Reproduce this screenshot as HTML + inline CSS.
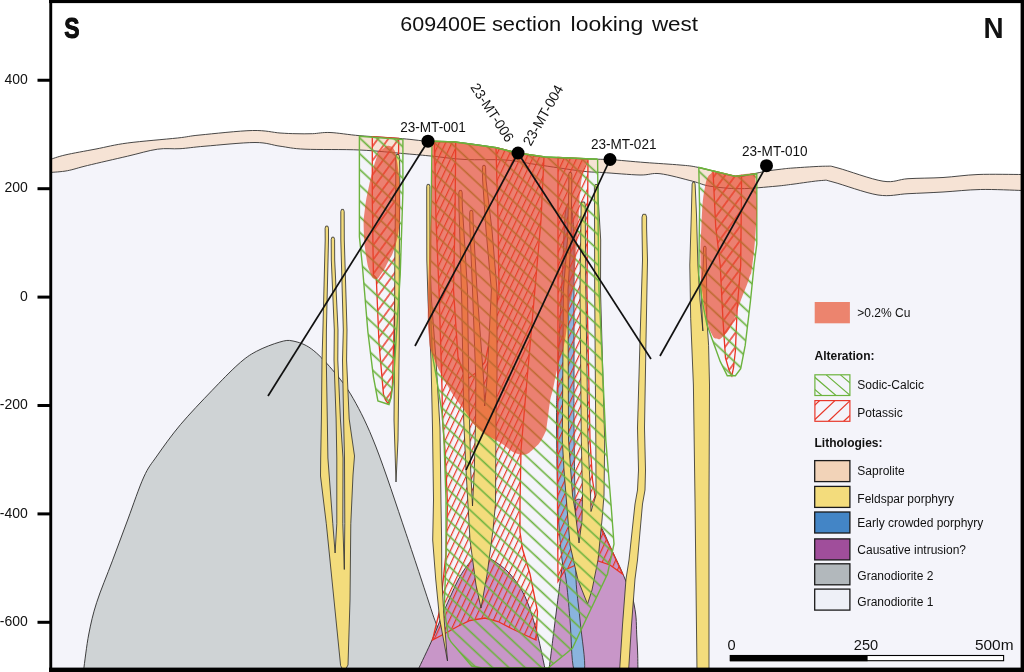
<!DOCTYPE html>
<html><head><meta charset="utf-8"><title>609400E section looking west</title>
<style>
html,body{margin:0;padding:0;background:#fff;}
body{width:1024px;height:672px;overflow:hidden;}
svg{display:block;will-change:transform;}
text{font-family:"Liberation Sans",sans-serif;fill:#111;}
</style></head><body>
<svg width="1024" height="672" viewBox="0 0 1024 672">
<defs>
<clipPath id="cl1"><rect x="814.9" y="374.8" width="35" height="20.7"/></clipPath>
<clipPath id="cl2"><rect x="814.9" y="400.6" width="35" height="20.7"/></clipPath>
<clipPath id="frame"><rect x="50" y="2" width="972" height="667"/></clipPath>

<pattern id="hgA" patternUnits="userSpaceOnUse" width="40" height="11.1" patternTransform="rotate(43)"><path d="M0,7.9 H40" stroke="#6cb33e" stroke-width="1.55"/></pattern>
<pattern id="hgS" patternUnits="userSpaceOnUse" width="40" height="11.5" patternTransform="rotate(43)"><path d="M0,5.2 H40" stroke="#6cb33e" stroke-width="1.55"/></pattern>
<pattern id="hrM" patternUnits="userSpaceOnUse" width="40" height="5.7" patternTransform="rotate(-65)"><path d="M0,2.5 H40" stroke="#ea3323" stroke-width="1.35"/></pattern>
<pattern id="hrS" patternUnits="userSpaceOnUse" width="40" height="8.4" patternTransform="rotate(-54)"><path d="M0,1 H40" stroke="#ea3323" stroke-width="1.35"/></pattern>

</defs>
<rect width="1024" height="672" fill="#fff"/>
<g clip-path="url(#frame)">
<path d="M50.0,172.5 C52.9,172.2 61.2,171.9 67.5,170.7 C73.8,169.5 77.5,167.9 87.5,165.5 C97.5,163.1 115.8,158.9 127.5,156.2 C139.2,153.5 148.8,150.4 157.5,149.2 C166.2,147.9 172.1,149.2 180.0,148.7 C187.9,148.2 192.5,147.2 205.0,146.2 C217.5,145.2 242.5,142.5 255.0,142.5 C267.5,142.5 271.7,145.1 280.0,146.2 C288.3,147.3 291.7,148.6 305.0,149.2 C318.3,149.8 343.3,149.2 360.0,150.0 C376.7,150.8 392.9,152.7 405.0,153.7 C417.1,154.7 422.5,155.2 432.5,156.2 C442.5,157.2 452.9,158.9 465.0,159.5 C477.1,160.1 493.2,159.2 505.0,160.0 C516.8,160.8 523.1,162.6 536.0,164.5 C548.9,166.4 571.4,169.9 582.5,171.2 C593.6,172.5 592.9,171.9 602.5,172.5 C612.1,173.1 630.4,174.8 640.0,175.0 C649.6,175.2 651.2,172.7 660.0,173.7 C668.8,174.7 684.2,179.1 692.5,181.2 C700.8,183.3 702.1,184.9 710.0,186.2 C717.9,187.4 729.0,188.7 740.0,188.7 C751.0,188.7 767.2,186.9 776.0,186.2 C784.8,185.4 785.4,185.1 793.0,184.2 C800.6,183.2 815.0,180.9 821.7,180.5 C828.4,180.1 823.6,179.6 833.0,182.0 C842.4,184.4 865.5,193.1 878.0,195.0 C890.5,196.9 897.2,194.2 908.0,193.7 C918.8,193.2 930.9,192.7 943.0,192.0 C955.1,191.3 967.3,189.8 980.5,189.5 C993.7,189.2 1015.1,190.3 1022.0,190.5 L1022,669 L50,669Z" fill="#f4f4fa"/>
<path d="M50.0,159.5 C52.5,158.8 57.3,156.8 65.0,155.0 C72.7,153.2 85.6,151.0 96.0,149.0 C106.4,147.0 113.9,144.8 127.5,143.0 C141.1,141.2 165.4,139.3 177.5,138.0 C189.6,136.7 187.5,136.2 200.0,135.0 C212.5,133.8 239.2,130.8 252.5,130.5 C265.8,130.2 272.8,132.5 280.0,133.0 C287.2,133.5 290.6,133.6 296.0,133.7 C301.4,133.8 306.8,133.9 312.5,133.7 C318.2,133.5 322.1,132.2 330.0,132.5 C337.9,132.8 347.9,134.7 360.0,135.7 C372.1,136.7 391.2,137.8 402.5,138.7 C413.8,139.6 418.8,140.6 427.5,141.2 C436.2,141.8 443.8,140.9 455.0,142.0 C466.2,143.1 484.6,145.7 495.0,147.5 C505.4,149.3 509.2,151.4 517.5,153.0 C525.8,154.6 531.7,156.0 545.0,157.0 C558.3,158.0 586.7,158.8 597.5,159.2 C608.3,159.6 602.1,158.9 610.0,159.5 C617.9,160.1 633.3,161.6 645.0,162.5 C656.7,163.4 671.0,164.2 680.0,165.0 C689.0,165.8 689.5,165.6 698.7,167.5 C707.9,169.4 726.1,175.1 735.0,176.2 C743.9,177.3 746.8,174.8 752.0,174.0 C757.2,173.2 761.3,172.0 766.0,171.2 C770.7,170.4 775.5,169.8 780.0,169.3 C784.5,168.8 785.4,168.5 793.0,168.0 C800.6,167.5 818.0,166.2 825.5,166.2 C833.0,166.2 828.4,165.5 838.0,168.0 C847.6,170.5 871.3,179.4 883.0,181.2 C894.7,183.0 898.0,179.3 908.0,178.7 C918.0,178.1 931.3,178.2 943.0,177.5 C954.7,176.8 964.8,175.0 978.0,174.5 C991.2,174.0 1014.7,174.5 1022.0,174.5 L1022.0,190.5 C1015.1,190.3 993.7,189.2 980.5,189.5 C967.3,189.8 955.1,191.3 943.0,192.0 C930.9,192.7 918.8,193.2 908.0,193.7 C897.2,194.2 890.5,196.9 878.0,195.0 C865.5,193.1 842.4,184.4 833.0,182.0 C823.6,179.6 828.4,180.1 821.7,180.5 C815.0,180.9 800.6,183.2 793.0,184.2 C785.4,185.1 784.8,185.4 776.0,186.2 C767.2,186.9 751.0,188.7 740.0,188.7 C729.0,188.7 717.9,187.4 710.0,186.2 C702.1,184.9 700.8,183.3 692.5,181.2 C684.2,179.1 668.8,174.7 660.0,173.7 C651.2,172.7 649.6,175.2 640.0,175.0 C630.4,174.8 612.1,173.1 602.5,172.5 C592.9,171.9 593.6,172.5 582.5,171.2 C571.4,169.9 548.9,166.4 536.0,164.5 C523.1,162.6 516.8,160.8 505.0,160.0 C493.2,159.2 477.1,160.1 465.0,159.5 C452.9,158.9 442.5,157.2 432.5,156.2 C422.5,155.2 417.1,154.7 405.0,153.7 C392.9,152.7 376.7,150.8 360.0,150.0 C343.3,149.2 318.3,149.8 305.0,149.2 C291.7,148.6 288.3,147.3 280.0,146.2 C271.7,145.1 267.5,142.5 255.0,142.5 C242.5,142.5 217.5,145.2 205.0,146.2 C192.5,147.2 187.9,148.2 180.0,148.7 C172.1,149.2 166.2,147.9 157.5,149.2 C148.8,150.4 139.2,153.5 127.5,156.2 C115.8,158.9 97.5,163.1 87.5,165.5 C77.5,167.9 73.8,169.5 67.5,170.7 C61.2,171.9 52.9,172.2 50.0,172.5Z" fill="#f6e3d5"/>
<path d="M50.0,159.5 C52.5,158.8 57.3,156.8 65.0,155.0 C72.7,153.2 85.6,151.0 96.0,149.0 C106.4,147.0 113.9,144.8 127.5,143.0 C141.1,141.2 165.4,139.3 177.5,138.0 C189.6,136.7 187.5,136.2 200.0,135.0 C212.5,133.8 239.2,130.8 252.5,130.5 C265.8,130.2 272.8,132.5 280.0,133.0 C287.2,133.5 290.6,133.6 296.0,133.7 C301.4,133.8 306.8,133.9 312.5,133.7 C318.2,133.5 322.1,132.2 330.0,132.5 C337.9,132.8 347.9,134.7 360.0,135.7 C372.1,136.7 391.2,137.8 402.5,138.7 C413.8,139.6 418.8,140.6 427.5,141.2 C436.2,141.8 443.8,140.9 455.0,142.0 C466.2,143.1 484.6,145.7 495.0,147.5 C505.4,149.3 509.2,151.4 517.5,153.0 C525.8,154.6 531.7,156.0 545.0,157.0 C558.3,158.0 586.7,158.8 597.5,159.2 C608.3,159.6 602.1,158.9 610.0,159.5 C617.9,160.1 633.3,161.6 645.0,162.5 C656.7,163.4 671.0,164.2 680.0,165.0 C689.0,165.8 689.5,165.6 698.7,167.5 C707.9,169.4 726.1,175.1 735.0,176.2 C743.9,177.3 746.8,174.8 752.0,174.0 C757.2,173.2 761.3,172.0 766.0,171.2 C770.7,170.4 775.5,169.8 780.0,169.3 C784.5,168.8 785.4,168.5 793.0,168.0 C800.6,167.5 818.0,166.2 825.5,166.2 C833.0,166.2 828.4,165.5 838.0,168.0 C847.6,170.5 871.3,179.4 883.0,181.2 C894.7,183.0 898.0,179.3 908.0,178.7 C918.0,178.1 931.3,178.2 943.0,177.5 C954.7,176.8 964.8,175.0 978.0,174.5 C991.2,174.0 1014.7,174.5 1022.0,174.5" fill="none" stroke="#333" stroke-width="0.9"/>
<path d="M50.0,172.5 C52.9,172.2 61.2,171.9 67.5,170.7 C73.8,169.5 77.5,167.9 87.5,165.5 C97.5,163.1 115.8,158.9 127.5,156.2 C139.2,153.5 148.8,150.4 157.5,149.2 C166.2,147.9 172.1,149.2 180.0,148.7 C187.9,148.2 192.5,147.2 205.0,146.2 C217.5,145.2 242.5,142.5 255.0,142.5 C267.5,142.5 271.7,145.1 280.0,146.2 C288.3,147.3 291.7,148.6 305.0,149.2 C318.3,149.8 343.3,149.2 360.0,150.0 C376.7,150.8 392.9,152.7 405.0,153.7 C417.1,154.7 422.5,155.2 432.5,156.2 C442.5,157.2 452.9,158.9 465.0,159.5 C477.1,160.1 493.2,159.2 505.0,160.0 C516.8,160.8 523.1,162.6 536.0,164.5 C548.9,166.4 571.4,169.9 582.5,171.2 C593.6,172.5 592.9,171.9 602.5,172.5 C612.1,173.1 630.4,174.8 640.0,175.0 C649.6,175.2 651.2,172.7 660.0,173.7 C668.8,174.7 684.2,179.1 692.5,181.2 C700.8,183.3 702.1,184.9 710.0,186.2 C717.9,187.4 729.0,188.7 740.0,188.7 C751.0,188.7 767.2,186.9 776.0,186.2 C784.8,185.4 785.4,185.1 793.0,184.2 C800.6,183.2 815.0,180.9 821.7,180.5 C828.4,180.1 823.6,179.6 833.0,182.0 C842.4,184.4 865.5,193.1 878.0,195.0 C890.5,196.9 897.2,194.2 908.0,193.7 C918.8,193.2 930.9,192.7 943.0,192.0 C955.1,191.3 967.3,189.8 980.5,189.5 C993.7,189.2 1015.1,190.3 1022.0,190.5" fill="none" stroke="#333" stroke-width="0.9"/>
<path d="M83.6,670.0 C84.5,664.0 86.6,645.2 88.8,634.0 C91.0,622.8 92.7,614.9 96.6,602.7 C100.5,590.5 107.2,574.8 112.4,560.8 C117.6,546.8 122.8,533.0 128.0,519.0 C133.2,505.0 139.0,487.5 143.8,477.0 C148.6,466.5 150.8,464.7 156.9,456.0 C163.0,447.3 171.2,435.6 180.4,424.7 C189.6,413.8 202.2,400.7 211.8,390.7 C221.4,380.7 230.6,371.1 238.0,364.5 C245.4,357.9 249.3,355.1 256.3,351.4 C263.3,347.6 273.8,343.7 279.9,342.0 C286.0,340.3 287.8,339.9 293.0,341.0 C298.2,342.1 304.8,344.0 311.3,348.8 C317.9,353.6 325.3,361.4 332.3,369.7 C339.3,378.0 345.9,385.6 353.2,398.5 C360.5,411.4 367.2,424.5 376.0,447.0 C384.8,469.5 396.7,506.0 406.0,533.5 C415.3,561.0 426.7,595.6 432.0,612.0 C437.3,628.4 436.7,622.3 438.0,632.0 C439.3,641.7 439.7,663.7 440.0,670.0 Z" fill="#cfd3d5" stroke="#2b2b2b" stroke-width="0.9"/>
<path d="M418.0,670.0 C420.4,664.8 428.2,648.8 432.5,639.0 C436.8,629.2 439.4,621.4 444.0,611.0 C448.6,600.6 455.2,585.0 460.0,576.5 C464.8,568.0 468.8,563.3 472.5,560.0 C476.2,556.7 478.7,556.5 482.0,556.5 C485.3,556.5 487.8,557.1 492.5,560.0 C497.2,562.9 504.6,567.9 510.0,574.0 C515.4,580.1 520.7,587.3 525.0,596.5 C529.3,605.7 532.8,617.8 536.0,629.0 C539.2,640.2 542.5,657.2 544.0,664.0 C545.5,670.8 544.8,669.0 545.0,670.0 Z" fill="#c896c8" stroke="#2b2b2b" stroke-width="0.9"/>
<path d="M549.0,670.0 C550.9,655.1 552.4,642.3 556.0,614.0 C559.6,585.7 559.6,585.1 562.5,564.0 C565.4,542.9 564.5,549.4 567.0,535.0 C569.5,520.6 569.9,519.1 572.0,510.0 C574.1,500.9 572.1,503.4 575.0,501.0 C577.9,498.6 579.0,498.6 583.0,501.0 C587.0,503.4 585.5,503.6 590.0,510.0 C594.5,516.4 594.0,513.9 600.0,525.0 C606.0,536.1 605.8,537.1 612.5,551.5 C619.2,565.9 619.3,565.0 625.0,579.0 C630.7,593.0 630.8,587.7 634.0,604.0 C637.2,620.3 635.9,622.4 637.0,640.0 C638.1,657.6 637.7,662.0 638.0,670.0 Z" fill="#c896c8" stroke="#2b2b2b" stroke-width="0.9"/>
<path d="M569.0,203.0 C567.6,204.0 566.2,203.6 565.0,215.0 C563.8,226.4 564.0,239.0 563.0,260.0 C562.0,281.0 561.1,296.0 560.0,320.0 C558.9,344.0 558.2,360.0 557.5,380.0 C556.8,400.0 556.5,397.0 556.5,420.0 C556.5,443.0 557.1,475.0 557.5,495.0 C557.9,515.0 557.6,507.0 558.5,520.0 C559.4,533.0 560.5,548.2 562.0,560.0 C563.5,571.8 564.4,567.0 566.0,579.0 C567.6,591.0 568.4,601.8 570.0,620.0 C571.6,638.2 571.1,660.0 574.0,670.0 C576.9,680.0 583.3,680.0 584.5,670.0 C585.7,660.0 581.7,638.2 580.0,620.0 C578.3,601.8 576.6,594.0 576.0,579.0 C575.4,564.0 577.2,561.8 577.0,545.0 C576.8,528.2 575.6,520.0 575.0,495.0 C574.4,470.0 574.2,443.0 574.0,420.0 C573.8,397.0 574.0,404.0 574.0,380.0 C574.0,356.0 574.0,328.0 574.0,300.0 C574.0,272.0 574.4,258.0 574.0,240.0 C573.6,222.0 573.0,217.4 572.0,210.0 C571.0,202.6 570.4,202.0 569.0,203.0Z" fill="#8ab4de" stroke="#2b2b2b" stroke-width="0.8"/>
<path d="M434.5,141.4 L455.7,142.1 L455.0,220.0 L453.5,290.0 L458.0,357.0 L463.0,372.0 L469.0,378.0 L477.0,372.0 L485.0,362.0 L494.0,320.0 L499.0,290.0 L498.0,220.0 L496.0,147.7 L517.5,153.0 L544.0,156.9 L541.0,220.0 L534.0,300.0 L527.0,380.0 L521.0,450.0 L520.0,504.0 L520.0,532.0 L522.5,549.0 L530.0,574.0 L537.5,611.5 L536.0,640.0 L524.0,634.5 L512.5,629.0 L498.0,621.5 L485.0,618.0 L470.0,620.5 L457.5,626.5 L445.0,633.5 L432.5,640.0 L440.0,609.0 L446.0,554.0 L447.5,504.0 L445.0,450.0 L442.5,420.0 L442.0,388.0 L439.0,290.0 L436.0,220.0 L434.5,141.4Z" fill="url(#hrM)" stroke="#ea3323" stroke-width="1.3"/>
<path d="M558.0,157.5 L588.0,158.8 L587.0,290.0 L590.0,440.0 L592.5,480.0 L600.0,526.5 L612.0,551.0 L622.5,574.0 L610.0,565.0 L595.0,560.0 L580.0,563.0 L565.0,570.0 L558.0,581.5 L557.5,504.0 L558.0,300.0Z" fill="url(#hrM)" stroke="#ea3323" stroke-width="1.3"/>
<path d="M372.3,136.6 L398.7,138.4 L398.0,225.4 L394.6,309.6 L392.4,385.5 L390.5,398.0 L388.0,403.4 L385.5,400.0 L383.5,394.5 L379.0,343.0 L376.3,278.0 L373.4,275.0 L372.3,200.0Z" fill="url(#hrS)" stroke="#ea3323" stroke-width="1.3"/>
<path d="M713.0,170.9 L735.0,176.2 L741.6,175.3 L740.7,265.0 L737.1,309.6 L735.4,350.7 L733.5,368.0 L731.8,375.7 L729.0,370.0 L725.5,357.9 L722.9,318.6 L720.2,265.0 L715.7,226.4Z" fill="url(#hrS)" stroke="#ea3323" stroke-width="1.3"/>
<path d="M328.5,228.2 L327.8,226.1 L325.8,226.1 L325.1,228.2 L325.2,240.0 L322.9,330.0 L322.0,360.0 L321.4,419.0 L320.7,458.0 L320.5,476.0 L326.3,523.7 L334.0,600.0 L340.6,665.6 L344.0,672.0 L348.0,665.0 L350.0,600.0 L350.8,523.7 L353.0,475.0 L354.5,456.0 L349.2,419.0 L346.6,360.0 L347.0,330.0 L344.3,240.0 L344.2,211.6 L343.5,209.4 L341.5,209.4 L340.8,211.6 L340.8,240.0 L343.3,330.0 L342.5,360.0 L343.6,419.0 L344.5,458.0 L344.8,523.7 L344.3,569.5 L342.8,523.7 L343.0,458.0 L340.4,419.0 L337.8,360.0 L338.0,330.0 L334.7,260.0 L334.6,239.4 L333.9,237.2 L331.9,237.2 L331.2,239.4 L331.3,260.0 L334.3,330.0 L334.0,360.0 L336.1,419.0 L336.8,458.0 L336.8,523.7 L335.1,553.0 L332.8,523.7 L327.9,458.0 L327.3,419.0 L326.3,360.0 L326.4,330.0 L328.5,240.0Z" fill="#f3dc7c" stroke="#2b2b2b" stroke-width="0.8" stroke-linejoin="round"/>
<path d="M399.5,156.8 L398.7,154.5 L396.5,154.5 L395.7,156.8 L395.8,170.0 L394.8,265.0 L394.6,340.0 L394.0,420.0 L396.0,482.0 L398.0,440.0 L399.3,340.0 L399.3,265.0 L399.8,170.0Z" fill="#f3dc7c" stroke="#2b2b2b" stroke-width="0.8" stroke-linejoin="round"/>
<path d="M429.9,186.4 L429.3,184.4 L427.3,184.4 L426.7,186.4 L426.7,200.0 L426.8,260.0 L428.0,300.0 L431.0,360.0 L432.5,428.0 L433.5,500.0 L432.7,540.0 L435.7,579.0 L439.6,618.7 L447.5,661.0 L444.1,618.7 L441.8,579.0 L441.6,540.0 L441.0,504.0 L440.0,428.0 L436.0,360.0 L431.5,300.0 L430.0,260.0 L429.9,200.0Z" fill="#f3dc7c" stroke="#2b2b2b" stroke-width="0.8" stroke-linejoin="round"/>
<path d="M462.2,192.6 L461.5,190.4 L459.5,190.4 L458.8,192.6 L458.9,205.0 L461.7,300.0 L463.5,401.0 L463.7,420.0 L466.0,470.0 L470.0,540.0 L476.0,585.0 L481.0,608.0 L487.0,575.0 L493.0,530.0 L495.5,504.0 L496.0,420.0 L497.0,379.0 L497.0,290.0 L492.0,230.0 L486.0,180.0 L485.6,167.4 L485.0,165.4 L483.0,165.4 L482.4,167.4 L482.6,180.0 L486.0,230.0 L491.4,290.0 L487.0,379.0 L484.7,406.0 L483.6,379.0 L477.0,290.0 L473.3,225.0 L472.9,212.4 L472.3,210.4 L470.3,210.4 L469.7,212.4 L469.8,225.0 L472.5,290.0 L475.8,379.0 L475.6,420.0 L474.3,470.0 L472.5,506.0 L470.7,470.0 L469.5,420.0 L469.0,401.0 L467.5,290.0 L462.3,205.0Z" fill="#f3dc7c" stroke="#2b2b2b" stroke-width="0.8" stroke-linejoin="round"/>
<path d="M571.8,174.2 L571.2,172.4 L569.4,172.4 L568.8,174.2 L568.8,185.0 L567.5,240.0 L563.4,290.0 L562.3,440.0 L564.0,470.0 L566.0,495.0 L570.0,545.0 L578.0,580.0 L587.5,604.0 L592.0,590.0 L598.0,560.0 L602.0,520.0 L604.0,495.0 L604.7,440.0 L600.5,290.0 L600.7,240.0 L598.3,200.0 L598.2,186.8 L597.4,184.5 L595.2,184.5 L594.4,186.8 L594.5,200.0 L594.7,290.0 L595.8,440.0 L596.0,495.0 L591.0,511.5 L590.5,495.0 L588.0,440.0 L585.8,290.0 L585.3,215.0 L585.3,204.7 L584.5,202.0 L581.9,202.0 L581.1,204.7 L581.0,215.0 L580.0,290.0 L581.3,440.0 L582.5,495.0 L582.0,520.0 L579.0,543.0 L575.0,510.0 L572.5,495.0 L568.5,440.0 L568.0,290.0 L571.0,240.0 L571.8,185.0Z" fill="#f3dc7c" stroke="#2b2b2b" stroke-width="0.8" stroke-linejoin="round"/>
<path d="M646.6,217.1 L645.7,214.3 L642.9,214.3 L642.0,217.1 L642.0,228.0 L642.5,260.0 L640.0,340.0 L637.5,428.0 L638.5,470.0 L637.5,490.0 L635.0,504.0 L629.0,560.0 L626.0,579.0 L622.5,625.0 L619.5,672.0 L628.5,672.0 L631.5,625.0 L635.0,579.0 L637.5,560.0 L642.5,504.0 L645.0,490.0 L645.5,470.0 L644.5,428.0 L646.0,340.0 L647.5,260.0 L646.6,228.0Z" fill="#f3dc7c" stroke="#2b2b2b" stroke-width="0.8" stroke-linejoin="round"/>
<path d="M695.1,184.1 L694.5,182.2 L692.7,182.2 L692.1,184.1 L691.3,215.0 L689.8,265.0 L690.7,318.6 L693.4,385.0 L695.0,500.0 L697.0,672.0 L709.0,672.0 L709.0,500.0 L709.5,385.0 L708.6,345.4 L706.8,318.0 L706.5,265.0 L706.0,252.0 L706.1,247.9 L705.6,246.3 L704.0,246.3 L703.5,247.9 L703.6,252.0 L703.0,270.0 L700.8,286.0 L702.9,331.0 L700.0,300.0 L697.9,265.0 L696.5,215.0Z" fill="#f3dc7c" stroke="#2b2b2b" stroke-width="0.8" stroke-linejoin="round"/>
<path d="M432.0,141.3 L455.0,142.0 L495.0,147.5 L517.5,153.0 L545.0,157.0 L597.5,159.2 L597.6,159.0 L598.2,230.0 L599.0,290.0 L605.8,440.0 L611.0,504.0 L614.0,544.0 L607.5,574.0 L590.0,611.0 L572.5,648.0 L566.7,653.0 L548.0,668.0 L482.0,668.0 L471.7,666.0 L450.8,641.7 L448.3,636.7 L444.2,608.3 L446.0,560.0 L446.0,500.0 L444.0,440.0 L442.3,415.0 L436.7,379.0 L432.3,354.7 L430.0,300.0 L431.0,220.0Z" fill="url(#hgA)" stroke="none"/>
<path d="M432.0,141.3 L455.0,142.0 L495.0,147.5 L517.5,153.0 L545.0,157.0 L597.5,159.2 L597.6,159.0 L598.2,230.0 L599.0,290.0 L605.8,440.0 L611.0,504.0 L614.0,544.0 L607.5,574.0 L590.0,611.0 L572.5,648.0 L566.7,653.0 L548.0,668.0 L482.0,668.0 L471.7,666.0 L450.8,641.7 L448.3,636.7 L444.2,608.3 L446.0,560.0 L446.0,500.0 L444.0,440.0 L442.3,415.0 L436.7,379.0 L432.3,354.7 L430.0,300.0 L431.0,220.0Z" fill="none" stroke="#6cb33e" stroke-width="1.4"/>
<path d="M359.4,136.2 L402.9,139.5 L402.9,192.0 L400.2,275.0 L398.0,309.6 L393.5,381.0 L391.0,398.0 L389.0,404.5 L377.9,401.0 L373.4,376.6 L367.9,332.0 L362.3,265.0 L359.4,236.6Z" fill="url(#hgS)" stroke="#6cb33e" stroke-width="1.4"/>
<path d="M698.8,167.5 L735.4,176.4 L756.8,173.8 L756.8,244.0 L754.1,265.0 L750.5,300.7 L745.2,345.4 L740.7,368.6 L735.4,375.7 L727.3,375.7 L720.2,361.4 L711.2,336.4 L706.8,324.0 L702.0,300.0 L698.8,275.0 L699.6,208.6Z" fill="url(#hgS)" stroke="#6cb33e" stroke-width="1.4"/>
<path d="M432.5,141.3 L455.0,142.0 L495.0,147.5 L517.5,153.0 L545.0,157.0 L588.0,158.8 C586.4,164.6 583.3,167.4 581.0,183.5 C578.7,199.6 579.2,210.2 578.0,228.0 C576.8,245.8 576.9,245.5 575.7,260.0 C574.5,274.5 574.3,278.9 572.7,290.0 C571.1,301.1 570.8,295.9 569.0,307.6 C567.2,319.3 567.7,325.9 565.0,340.0 C562.3,354.1 560.3,356.6 557.5,368.0 C554.7,379.4 554.8,381.2 553.0,389.0 C551.2,396.8 551.4,393.4 550.0,401.6 C548.6,409.8 548.3,416.4 547.0,424.0 C545.7,431.6 547.3,428.5 544.5,434.0 C541.7,439.5 540.7,442.7 535.0,447.5 C529.3,452.3 528.2,455.7 520.0,454.5 C511.8,453.3 509.8,448.6 500.0,442.5 C490.2,436.4 486.3,435.9 478.0,428.4 C469.7,420.9 471.4,419.9 464.6,410.5 C457.8,401.1 456.3,400.5 449.0,388.0 C441.7,375.5 438.1,369.5 433.4,357.0 C428.7,344.5 430.0,347.9 428.7,334.6 C427.4,321.3 427.8,319.7 428.0,300.0 C428.2,280.3 428.7,273.3 429.5,250.0 C430.3,226.7 430.8,225.4 431.5,200.0 C432.2,174.6 432.3,155.0 432.5,141.3Z" fill="#e7452a" fill-opacity="0.66"/>
<path d="M389.5,146.0 C386.4,145.5 386.1,146.4 383.0,148.8 C379.9,151.2 379.9,152.0 378.0,155.0 C376.1,158.0 377.2,156.0 375.8,160.0 C374.4,164.0 374.7,163.1 372.9,170.0 C371.1,176.9 371.2,175.3 369.0,186.0 C366.8,196.7 366.2,198.3 364.8,210.0 C363.4,221.7 363.5,218.0 363.8,230.0 C364.1,242.0 364.3,243.8 366.0,255.0 C367.7,266.2 367.5,265.6 370.0,272.0 C372.5,278.4 372.6,278.5 375.5,279.0 C378.4,279.5 377.7,278.5 381.0,274.0 C384.3,269.5 384.4,269.0 388.0,262.0 C391.6,255.0 391.7,256.9 394.6,247.8 C397.5,238.7 397.5,238.1 399.0,228.0 C400.5,217.9 400.1,221.3 400.2,209.8 C400.3,198.3 400.0,195.7 399.5,185.0 C399.0,174.3 398.9,176.3 398.2,169.6 C397.5,162.9 397.7,164.9 396.7,159.8 C395.7,154.7 396.4,154.2 394.5,150.5 C392.6,146.8 392.6,146.5 389.5,146.0Z" fill="#e7452a" fill-opacity="0.66"/>
<path d="M712.0,172.0 L720.0,172.6 L735.0,176.2 L745.0,174.0 L755.0,173.0 C755.4,180.2 756.2,185.9 756.5,200.0 C756.8,214.1 757.1,208.7 756.0,226.0 C754.9,243.3 754.2,250.8 752.3,265.0 C750.4,279.2 751.8,269.8 748.8,279.3 C745.7,288.8 745.2,288.8 740.7,300.7 C736.2,312.6 736.5,314.5 731.8,324.0 C727.1,333.5 727.0,332.5 722.9,336.4 C718.8,340.3 719.7,339.5 716.6,338.6 C713.5,337.7 713.9,338.2 711.2,332.9 C708.6,327.6 709.2,329.6 706.8,318.6 C704.4,307.6 704.0,306.1 702.3,291.8 C700.6,277.5 700.7,282.4 700.5,265.0 C700.3,247.6 700.2,247.2 701.4,226.4 C702.6,205.6 702.2,201.5 705.0,187.0 C707.8,172.5 710.1,176.0 712.0,172.0Z" fill="#e7452a" fill-opacity="0.66"/>
<path d="M432.0,141.3 L455.0,142.0 L495.0,147.5 L517.5,153.0 L545.0,157.0 L597.5,159.2 L597.6,159.0" fill="none" stroke="#6cb33e" stroke-width="1.4"/>
<path d="M698.8,167.5 L735.4,176.4 L756.8,173.8" fill="none" stroke="#6cb33e" stroke-width="1.4"/>
<path d="M428,141.2 L268,396" stroke="#111" stroke-width="1.7" fill="none"/>
<path d="M518,153 L415,346" stroke="#111" stroke-width="1.7" fill="none"/>
<path d="M518,153 L651,359" stroke="#111" stroke-width="1.7" fill="none"/>
<path d="M610,159.5 L466,470" stroke="#111" stroke-width="1.7" fill="none"/>
<path d="M766.5,165.7 L660,356" stroke="#111" stroke-width="1.7" fill="none"/>
<circle cx="428" cy="141.2" r="6.5" fill="#000"/>
<circle cx="518" cy="153" r="6.5" fill="#000"/>
<circle cx="610" cy="159.5" r="6.5" fill="#000"/>
<circle cx="766.5" cy="165.7" r="6.5" fill="#000"/>
<text x="400.2" y="132.1" font-size="14.2" textLength="65.6" lengthAdjust="spacingAndGlyphs">23-MT-001</text>
<text x="590.9" y="149.1" font-size="14.2" textLength="65.6" lengthAdjust="spacingAndGlyphs">23-MT-021</text>
<text x="742" y="155.9" font-size="14.2" textLength="65.6" lengthAdjust="spacingAndGlyphs">23-MT-010</text>
<text transform="translate(470.1,87.3) rotate(57)" font-size="14.2" textLength="66.5" lengthAdjust="spacingAndGlyphs">23-MT-006</text>
<text transform="translate(530.8,146.8) rotate(-60.5)" font-size="14.2" textLength="67" lengthAdjust="spacingAndGlyphs">23-MT-004</text>
</g>
<!-- frame -->
<rect x="49.3" y="0" width="2.9" height="672" fill="#000"/>
<rect x="1020.6" y="0" width="3.4" height="672" fill="#000"/>
<rect x="49" y="0" width="975" height="3.1" fill="#000"/>
<rect x="49" y="667.6" width="975" height="4.4" fill="#000"/>
<rect x="37.5" y="78.75" width="13" height="3" fill="#000"/><text x="27.8" y="83.85" font-size="14" text-anchor="end">400</text><rect x="37.5" y="187.20" width="13" height="3" fill="#000"/><text x="27.8" y="192.30" font-size="14" text-anchor="end">200</text><rect x="37.5" y="295.60" width="13" height="3" fill="#000"/><text x="27.8" y="300.70" font-size="14" text-anchor="end">0</text><rect x="37.5" y="404.00" width="13" height="3" fill="#000"/><text x="27.8" y="409.10" font-size="14" text-anchor="end">-200</text><rect x="37.5" y="512.40" width="13" height="3" fill="#000"/><text x="27.8" y="517.50" font-size="14" text-anchor="end">-400</text><rect x="37.5" y="620.80" width="13" height="3" fill="#000"/><text x="27.8" y="625.90" font-size="14" text-anchor="end">-600</text>
<text transform="translate(64.2,38.2) scale(0.78,1)" font-size="29.4" font-weight="bold" fill="#000" stroke="#000" stroke-width="1" stroke-linejoin="round">S</text>
<text transform="translate(983.4,38.3) scale(0.916,1)" font-size="30.4" font-weight="bold" fill="#000">N</text>
<text x="400.3" y="31.2" font-size="21" textLength="86" lengthAdjust="spacingAndGlyphs">609400E</text>
<text x="491.9" y="31.2" font-size="21" textLength="69.4" lengthAdjust="spacingAndGlyphs">section</text>
<text x="570.6" y="31.2" font-size="21" textLength="72.8" lengthAdjust="spacingAndGlyphs">looking</text>
<text x="651.9" y="31.2" font-size="21" textLength="46.2" lengthAdjust="spacingAndGlyphs">west</text>

<rect x="814.7" y="302" width="35.2" height="21.3" fill="#ec846e"/>
<text x="857.3" y="316.7" font-size="12">&gt;0.2% Cu</text>
<text x="814.5" y="359.6" font-size="12" font-weight="bold">Alteration:</text>
<g clip-path="url(#cl1)"><path d="M797.8,374.9 l35,30 M812,374.9 l35,30 M826.25,374.9 l35,30 M840.5,374.9 l35,30" stroke="#6cb33e" stroke-width="1.2" fill="none"/></g>
<rect x="814.9" y="374.8" width="35" height="20.7" fill="none" stroke="#6cb33e" stroke-width="1.2"/>
<text x="857.3" y="389.1" font-size="12">Sodic-Calcic</text>
<g clip-path="url(#cl2)"><path d="M797.8,421.3 l30,-28.5 M813.1,421.3 l30,-28.5 M828.4,421.3 l30,-28.5 M843.7,421.3 l30,-28.5" stroke="#e8392b" stroke-width="1.2" fill="none"/></g>
<rect x="814.9" y="400.6" width="35" height="20.7" fill="none" stroke="#e8392b" stroke-width="1.2"/>
<text x="857.3" y="417.4" font-size="12">Potassic</text>
<text x="814.5" y="446.9" font-size="12" font-weight="bold">Lithologies:</text>
<rect x="814.7" y="460.6" width="35.2" height="21" fill="#f2d3b8" stroke="#1a1a1a" stroke-width="1.3"/><text x="857.3" y="474.9" font-size="12">Saprolite</text><rect x="814.7" y="486.4" width="35.2" height="21" fill="#f3dc7c" stroke="#1a1a1a" stroke-width="1.3"/><text x="857.3" y="502.7" font-size="12">Feldspar porphyry</text><rect x="814.7" y="512" width="35.2" height="21" fill="#4385c6" stroke="#1a1a1a" stroke-width="1.3"/><text x="857.3" y="526.7" font-size="12">Early crowded porphyry</text><rect x="814.7" y="538.9" width="35.2" height="21" fill="#a04e9b" stroke="#1a1a1a" stroke-width="1.3"/><text x="857.3" y="554.2" font-size="12">Causative intrusion?</text><rect x="814.7" y="563.8" width="35.2" height="21" fill="#b2b8bc" stroke="#1a1a1a" stroke-width="1.3"/><text x="857.3" y="579.6" font-size="12">Granodiorite 2</text><rect x="814.7" y="589.1" width="35.2" height="21" fill="#eef0f7" stroke="#1a1a1a" stroke-width="1.3"/><text x="857.3" y="605.6" font-size="12">Granodiorite 1</text>

<rect x="730.4" y="655.5" width="273.2" height="5.2" fill="#fff" stroke="#000" stroke-width="1.1"/>
<rect x="729.8" y="655" width="137.8" height="6.2" fill="#000"/>
<text x="727.6" y="650.4" font-size="14.6">0</text>
<text x="866" y="650.4" font-size="14.6" text-anchor="middle">250</text>
<text x="1013.5" y="650.4" font-size="14.6" text-anchor="end" textLength="38.6" lengthAdjust="spacingAndGlyphs">500m</text>

</svg>
</body></html>
